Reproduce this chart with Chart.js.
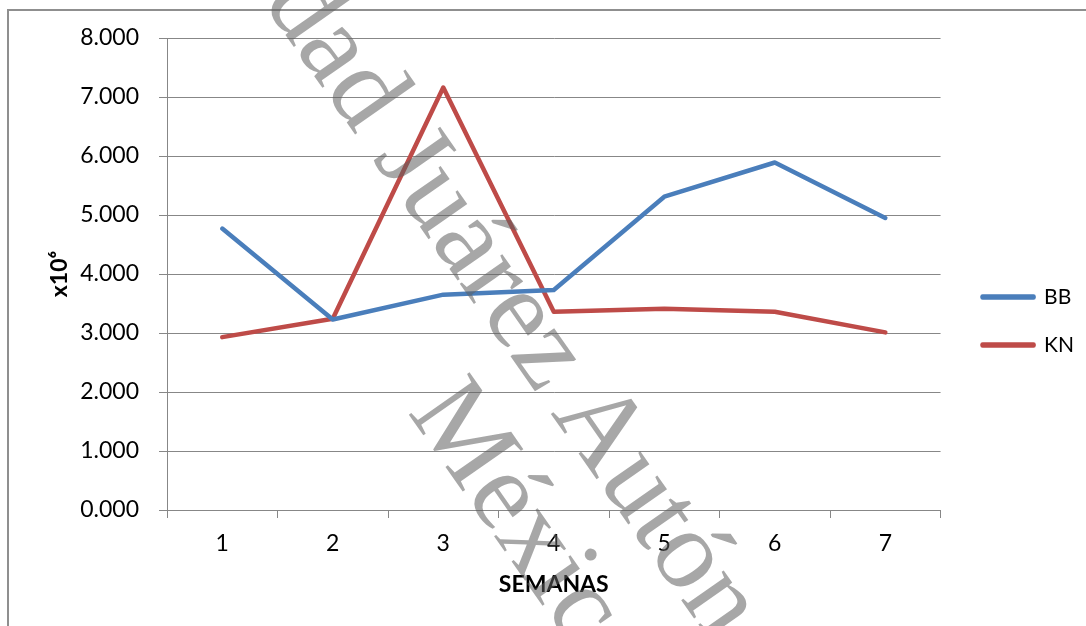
<!DOCTYPE html>
<html>
<head>
<meta charset="utf-8">
<script src="https://cdn.jsdelivr.net/npm/chart.js@4.4.1/dist/chart.umd.min.js"></script>
<style>
  html, body { margin: 0; padding: 0; background: #fff; overflow: hidden; }
  #marco { position: absolute; left: 7px; top: 9px; width: 1200px; height: 800px; border: 2px solid #8f8f8f; }
  #grafico { position: absolute; left: 0; top: 0; }
  .marca { position: absolute; transform-origin: 0 0; white-space: nowrap;
           font: 113px 'Liberation Serif', serif; line-height: 113px;
           color: rgba(95, 95, 95, 0.55); pointer-events: none; }
</style>
</head>
<body>
<div id="marco"></div>
<canvas id="grafico" width="1086" height="626"></canvas>
<div class="marca" style="left:39px; top:-317px; transform: rotate(55deg) translate(0,-95px);">Universidad Juárez Autónoma de Tabasco</div>
<div class="marca" style="left:407px; top:412px; transform: rotate(55deg) translate(0,-95px);">México</div>
<script>
// Semanas y valores (x10^6)
const semanas = ['1', '2', '3', '4', '5', '6', '7'];
const valoresBB = [4.77, 3.23, 3.65, 3.73, 5.31, 5.89, 4.95];
const valoresKN = [2.93, 3.24, 7.16, 3.36, 3.41, 3.36, 3.01];

const colorGrid = '#878787';
const fuente = 'Lato, "Open Sans", sans-serif';

// la leyenda queda un poco separada del área del gráfico
const moverLeyenda = {
    id: 'moverLeyenda',
    afterLayout(chart) {
        chart.legend.left += 15;
        chart.legend.right += 15;
    }
};

const ctx = document.getElementById('grafico');

new Chart(ctx, {
    type: 'line',
    data: {
        labels: semanas,
        datasets: [{
            label: 'BB',
            data: valoresBB,
            borderColor: '#4a7ebb',
            backgroundColor: '#4a7ebb',
            borderWidth: 4.5,
            borderCapStyle: 'round',
            borderJoinStyle: 'round',
            pointRadius: 0,
            tension: 0
        }, {
            label: 'KN',
            data: valoresKN,
            borderColor: '#be4b48',
            backgroundColor: '#be4b48',
            borderWidth: 4.5,
            borderCapStyle: 'round',
            borderJoinStyle: 'round',
            pointRadius: 0,
            tension: 0
        }]
    },
    plugins: [moverLeyenda],
    options: {
        responsive: false,
        animation: false,
        layout: { padding: { left: 46, top: 38, right: 17, bottom: 22 } },
        plugins: {
            tooltip: { enabled: false },
            legend: {
                position: 'right',
                labels: {
                    boxWidth: 51,
                    boxHeight: 1,
                    padding: 27,
                    color: '#000',
                    font: { family: fuente, size: 21 }
                }
            }
        },
        scales: {
            x: {
                offset: true,
                afterFit: (eje) => { eje.height = 94; },
                grid: { offset: true, drawOnChartArea: false, drawTicks: true, tickLength: 8, color: colorGrid },
                border: { color: colorGrid, width: 1 },
                ticks: { color: '#000', padding: 12, font: { family: fuente, size: 23 } },
                title: {
                    display: true,
                    text: 'SEMANAS',
                    color: '#000',
                    padding: { top: 4, bottom: 6 },
                    font: { family: fuente, size: 23, weight: 'bold' }
                }
            },
            y: {
                min: 0,
                max: 8,
                afterFit: (eje) => { eje.width = 121; },
                grid: { color: colorGrid, tickLength: 8 },
                border: { color: colorGrid, width: 1 },
                ticks: {
                    stepSize: 1,
                    padding: 20,
                    color: '#000',
                    font: { family: fuente, size: 23 },
                    callback: (v) => v.toFixed(3)
                },
                title: {
                    display: true,
                    text: 'x10⁶',
                    color: '#000',
                    padding: { top: 0, bottom: 0 },
                    font: { family: fuente, size: 23, weight: 'bold' }
                }
            }
        }
    }
});
</script>
</body>
</html>
